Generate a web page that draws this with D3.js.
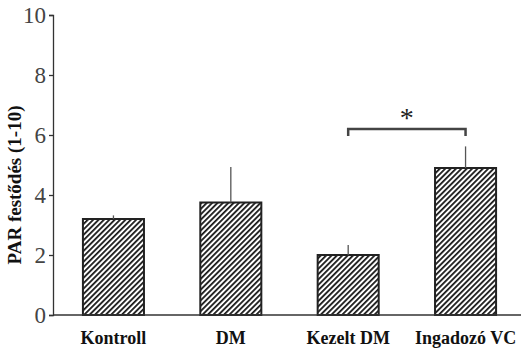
<!DOCTYPE html>
<html>
<head>
<meta charset="utf-8">
<script src="https://cdn.jsdelivr.net/npm/d3@7"></script>
<style>
  body { margin: 0; background: #fff; }
</style>
</head>
<body>
<script>
// groups, means and error bar tops
let groups = ["Kontroll", "DM", "Kezelt DM", "Ingadozó VC"];
let means = [3.2, 3.75, 2.0, 4.9];
let errors = [0.12, 1.18, 0.33, 0.72];
let yTicks = [0, 2, 4, 6, 8, 10];

let width = 521, height = 348;
let serif = "'Liberation Serif', 'Times New Roman', serif";

let svg = d3.select("body")
  .append("svg")
    .attr("width", width)
    .attr("height", height)
;

// hatch pattern for the bars
let defs = svg.append("defs");
let pat = defs.append("pattern")
    .attr("id", "hatch")
    .attr("patternUnits", "userSpaceOnUse")
    .attr("width", 3.8)
    .attr("height", 3.8)
    .attr("patternTransform", "rotate(45)")
;
pat.append("rect").attr("width", 3.8).attr("height", 3.8).attr("fill", "#fff");
pat.append("line")
    .attr("x1", 0).attr("y1", 0)
    .attr("x2", 0).attr("y2", 3.8)
    .attr("stroke", "#1a1a1a")
    .attr("stroke-width", 3.6)
;

let x = d3.scaleBand()
    .domain(groups)
    .range([53, 526])
    .paddingInner(0.48)
    .paddingOuter(0.255)
;

let y = d3.scaleLinear()
    .domain([0, 10])
    .range([315, 15])
;

// y axis
let yAxis = svg.append("g")
    .attr("transform", "translate(53,0)")
    .call(d3.axisLeft(y).tickValues(yTicks).tickSize(4).tickPadding(3))
;
yAxis.select(".domain").attr("stroke", "#333").attr("stroke-width", 1.3);
yAxis.selectAll(".tick line").attr("stroke", "#333").attr("stroke-width", 1.3);
yAxis.selectAll(".tick text")
    .style("font-family", serif)
    .style("font-size", "23px")
    .attr("fill", "#444")
;

// bars
svg.selectAll("rect.bar").data(means)
  .enter()
    .append("rect")
    .attr("class", "bar")
    .attr("x", (d, i) => x(groups[i]))
    .attr("y", d => y(d))
    .attr("width", x.bandwidth())
    .attr("height", d => y(0) - y(d))
    .attr("fill", "url(#hatch)")
    .attr("stroke", "#222")
    .attr("stroke-width", 2)
;

// error bars (upper only)
svg.selectAll("line.err").data(means)
  .enter()
    .append("line")
    .attr("class", "err")
    .attr("x1", (d, i) => x(groups[i]) + x.bandwidth() / 2)
    .attr("x2", (d, i) => x(groups[i]) + x.bandwidth() / 2)
    .attr("y1", d => y(d))
    .attr("y2", (d, i) => y(d + errors[i]))
    .attr("stroke", "#555")
    .attr("stroke-width", 1.3)
;

// x axis line
svg.append("line")
    .attr("x1", 53).attr("x2", width)
    .attr("y1", y(0)).attr("y2", y(0))
    .attr("stroke", "#333")
    .attr("stroke-width", 1.5)
;

// category labels
svg.selectAll("text.cat").data(groups)
  .enter()
    .append("text")
    .attr("class", "cat")
    .attr("x", d => x(d) + x.bandwidth() / 2)
    .attr("y", 344)
    .attr("text-anchor", "middle")
    .style("font-family", serif)
    .style("font-weight", "bold")
    .style("font-size", "18px")
    .attr("fill", "#111")
    .text(d => d)
;

// y title
svg.append("text")
    .attr("transform", "translate(21," + (y(5) + 20) + ") rotate(-90)")
    .attr("text-anchor", "middle")
    .style("font-family", serif)
    .style("font-weight", "bold")
    .style("font-size", "19px")
    .attr("fill", "#111")
    .text("PAR festődés (1-10)")
;

// significance bracket between Kezelt DM and Ingadozó VC
let bx1 = x("Kezelt DM") + x.bandwidth() / 2;
let bx2 = x("Ingadozó VC") + x.bandwidth() / 2;
let by = y(6.2);
svg.append("path")
    .attr("d", "M" + bx1 + "," + (by + 7) + "V" + by + "H" + bx2 + "V" + (by + 7))
    .attr("fill", "none")
    .attr("stroke", "#444")
    .attr("stroke-width", 2.5)
;
svg.append("text")
    .attr("x", (bx1 + bx2) / 2)
    .attr("y", by - 2)
    .attr("text-anchor", "middle")
    .style("font-family", serif)
    .style("font-size", "28px")
    .attr("fill", "#222")
    .text("*")
;
</script>
</body>
</html>
